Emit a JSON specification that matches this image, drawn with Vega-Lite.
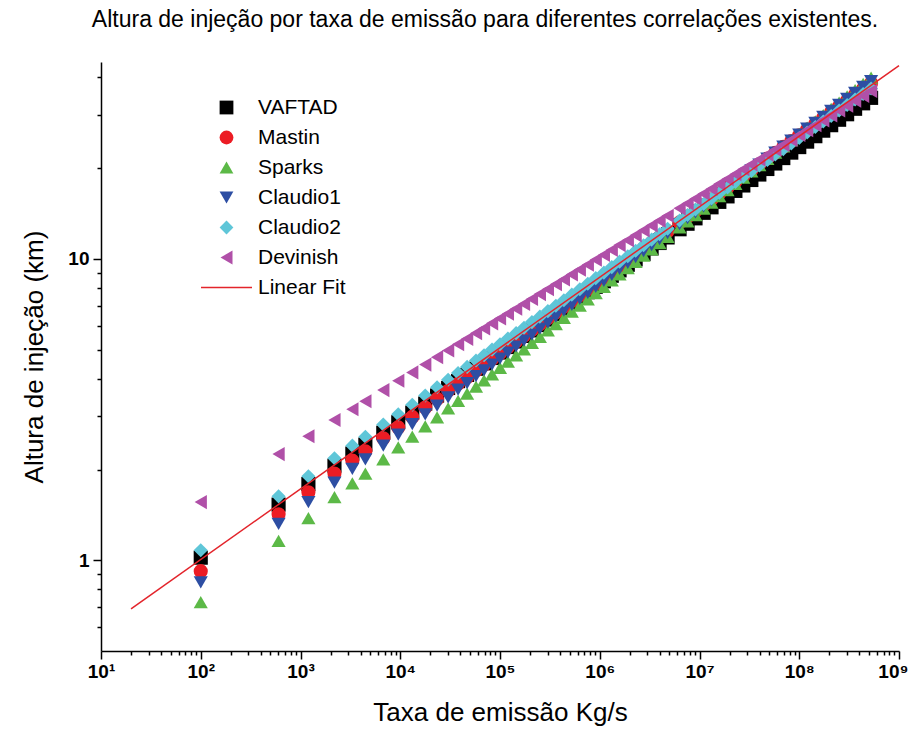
{
"$schema": "https://vega.github.io/schema/vega-lite/v6.json",
"width": 798, "height": 589,
"autosize": {"type": "none"},
"padding": {"left": 101, "top": 62, "right": 14, "bottom": 96},
"background": "white",
"title": {"text": "Altura de injeção por taxa de emissão para diferentes correlações existentes.", "font": "Liberation Sans", "fontSize": 23, "fontWeight": "normal", "color": "black", "offset": 30, "frame": "group", "dx": -15},
"config": {"view": {"stroke": null}},
"datasets": {
"pts": [
{"q":100,"s":"VAFTAD","h":1.02},{"q":603,"s":"VAFTAD","h":1.53},{"q":1200,"s":"VAFTAD","h":1.79},{"q":2190,"s":"VAFTAD","h":2.06},{"q":3310,"s":"VAFTAD","h":2.26},{"q":4470,"s":"VAFTAD","h":2.42},{"q":6760,"s":"VAFTAD","h":2.65},{"q":9550,"s":"VAFTAD","h":2.87},{"q":13200,"s":"VAFTAD","h":3.09},{"q":17800,"s":"VAFTAD","h":3.31},{"q":23400,"s":"VAFTAD","h":3.52},{"q":30200,"s":"VAFTAD","h":3.73},{"q":38000,"s":"VAFTAD","h":3.93},{"q":46800,"s":"VAFTAD","h":4.12},{"q":57500,"s":"VAFTAD","h":4.32},{"q":69200,"s":"VAFTAD","h":4.50},{"q":83200,"s":"VAFTAD","h":4.69},{"q":100000,"s":"VAFTAD","h":4.89},{"q":120000,"s":"VAFTAD","h":5.10},{"q":145000,"s":"VAFTAD","h":5.32},{"q":174000,"s":"VAFTAD","h":5.55},{"q":209000,"s":"VAFTAD","h":5.79},{"q":251000,"s":"VAFTAD","h":6.03},{"q":302000,"s":"VAFTAD","h":6.29},{"q":363000,"s":"VAFTAD","h":6.56},{"q":437000,"s":"VAFTAD","h":6.84},{"q":525000,"s":"VAFTAD","h":7.13},{"q":631000,"s":"VAFTAD","h":7.44},{"q":759000,"s":"VAFTAD","h":7.75},{"q":912000,"s":"VAFTAD","h":8.08},{"q":1100000,"s":"VAFTAD","h":8.43},{"q":1320000,"s":"VAFTAD","h":8.79},{"q":1580000,"s":"VAFTAD","h":9.16},{"q":1910000,"s":"VAFTAD","h":9.56},{"q":2290000,"s":"VAFTAD","h":9.96},{"q":2750000,"s":"VAFTAD","h":10.39},{"q":3310000,"s":"VAFTAD","h":10.83},{"q":3980000,"s":"VAFTAD","h":11.29},{"q":4790000,"s":"VAFTAD","h":11.78},{"q":6310000,"s":"VAFTAD","h":12.54},{"q":7590000,"s":"VAFTAD","h":13.08},{"q":9120000,"s":"VAFTAD","h":13.63},{"q":11000000,"s":"VAFTAD","h":14.22},{"q":13200000,"s":"VAFTAD","h":14.83},{"q":15800000,"s":"VAFTAD","h":15.46},{"q":19100000,"s":"VAFTAD","h":16.12},{"q":22900000,"s":"VAFTAD","h":16.81},{"q":27500000,"s":"VAFTAD","h":17.52},{"q":33100000,"s":"VAFTAD","h":18.27},{"q":39800000,"s":"VAFTAD","h":19.05},{"q":47900000,"s":"VAFTAD","h":19.87},{"q":57500000,"s":"VAFTAD","h":20.72},{"q":69200000,"s":"VAFTAD","h":21.60},{"q":83200000,"s":"VAFTAD","h":22.52},{"q":100000000,"s":"VAFTAD","h":23.49},{"q":120000000,"s":"VAFTAD","h":24.49},{"q":145000000,"s":"VAFTAD","h":25.53},{"q":174000000,"s":"VAFTAD","h":26.63},{"q":209000000,"s":"VAFTAD","h":27.77},{"q":251000000,"s":"VAFTAD","h":28.95},{"q":302000000,"s":"VAFTAD","h":30.19},{"q":363000000,"s":"VAFTAD","h":31.48},{"q":437000000,"s":"VAFTAD","h":32.82},{"q":525000000,"s":"VAFTAD","h":34.22},
{"q":100,"s":"Mastin","h":0.92},{"q":603,"s":"Mastin","h":1.42},{"q":1200,"s":"Mastin","h":1.68},{"q":2190,"s":"Mastin","h":1.94},{"q":3310,"s":"Mastin","h":2.14},{"q":4470,"s":"Mastin","h":2.30},{"q":6760,"s":"Mastin","h":2.54},{"q":9550,"s":"Mastin","h":2.76},{"q":13200,"s":"Mastin","h":2.99},{"q":17800,"s":"Mastin","h":3.21},{"q":23400,"s":"Mastin","h":3.43},{"q":30200,"s":"Mastin","h":3.65},{"q":38000,"s":"Mastin","h":3.85},{"q":46800,"s":"Mastin","h":4.05},{"q":57500,"s":"Mastin","h":4.26},{"q":69200,"s":"Mastin","h":4.45},{"q":83200,"s":"Mastin","h":4.65},{"q":100000,"s":"Mastin","h":4.86},{"q":120000,"s":"Mastin","h":5.09},{"q":145000,"s":"Mastin","h":5.32},{"q":174000,"s":"Mastin","h":5.56},{"q":209000,"s":"Mastin","h":5.81},{"q":251000,"s":"Mastin","h":6.07},{"q":302000,"s":"Mastin","h":6.35},{"q":363000,"s":"Mastin","h":6.64},{"q":437000,"s":"Mastin","h":6.94},{"q":525000,"s":"Mastin","h":7.25},{"q":631000,"s":"Mastin","h":7.58},{"q":759000,"s":"Mastin","h":7.93},{"q":912000,"s":"Mastin","h":8.29},{"q":1100000,"s":"Mastin","h":8.66},{"q":1320000,"s":"Mastin","h":9.06},{"q":1580000,"s":"Mastin","h":9.47},{"q":1910000,"s":"Mastin","h":9.90},{"q":2290000,"s":"Mastin","h":10.35},{"q":2750000,"s":"Mastin","h":10.82},{"q":3310000,"s":"Mastin","h":11.31},{"q":3980000,"s":"Mastin","h":11.82},{"q":4790000,"s":"Mastin","h":12.36},{"q":6310000,"s":"Mastin","h":13.21},{"q":7590000,"s":"Mastin","h":13.81},{"q":9120000,"s":"Mastin","h":14.43},{"q":11000000,"s":"Mastin","h":15.09},{"q":13200000,"s":"Mastin","h":15.77},{"q":15800000,"s":"Mastin","h":16.49},{"q":19100000,"s":"Mastin","h":17.24},{"q":22900000,"s":"Mastin","h":18.02},{"q":27500000,"s":"Mastin","h":18.84},{"q":33100000,"s":"Mastin","h":19.70},{"q":39800000,"s":"Mastin","h":20.59},{"q":47900000,"s":"Mastin","h":21.52},{"q":57500000,"s":"Mastin","h":22.50},{"q":69200000,"s":"Mastin","h":23.52},{"q":83200000,"s":"Mastin","h":24.59},{"q":100000000,"s":"Mastin","h":25.70},{"q":120000000,"s":"Mastin","h":26.87},{"q":145000000,"s":"Mastin","h":28.09},{"q":174000000,"s":"Mastin","h":29.37},{"q":209000000,"s":"Mastin","h":30.70},{"q":251000000,"s":"Mastin","h":32.09},{"q":302000000,"s":"Mastin","h":33.55},{"q":363000000,"s":"Mastin","h":35.08},{"q":437000000,"s":"Mastin","h":36.67},{"q":525000000,"s":"Mastin","h":38.32},
{"q":100,"s":"Sparks","h":0.726},{"q":603,"s":"Sparks","h":1.16},{"q":1200,"s":"Sparks","h":1.38},{"q":2190,"s":"Sparks","h":1.62},{"q":3310,"s":"Sparks","h":1.80},{"q":4470,"s":"Sparks","h":1.94},{"q":6760,"s":"Sparks","h":2.16},{"q":9550,"s":"Sparks","h":2.37},{"q":13200,"s":"Sparks","h":2.57},{"q":17800,"s":"Sparks","h":2.78},{"q":23400,"s":"Sparks","h":2.98},{"q":30200,"s":"Sparks","h":3.19},{"q":38000,"s":"Sparks","h":3.38},{"q":46800,"s":"Sparks","h":3.57},{"q":57500,"s":"Sparks","h":3.77},{"q":69200,"s":"Sparks","h":3.95},{"q":83200,"s":"Sparks","h":4.14},{"q":100000,"s":"Sparks","h":4.35},{"q":120000,"s":"Sparks","h":4.56},{"q":145000,"s":"Sparks","h":4.78},{"q":174000,"s":"Sparks","h":5.01},{"q":209000,"s":"Sparks","h":5.26},{"q":251000,"s":"Sparks","h":5.51},{"q":302000,"s":"Sparks","h":5.79},{"q":363000,"s":"Sparks","h":6.07},{"q":437000,"s":"Sparks","h":6.37},{"q":525000,"s":"Sparks","h":6.68},{"q":631000,"s":"Sparks","h":7.00},{"q":759000,"s":"Sparks","h":7.34},{"q":912000,"s":"Sparks","h":7.70},{"q":1100000,"s":"Sparks","h":8.08},{"q":1320000,"s":"Sparks","h":8.48},{"q":1580000,"s":"Sparks","h":8.89},{"q":1910000,"s":"Sparks","h":9.32},{"q":2290000,"s":"Sparks","h":9.78},{"q":2750000,"s":"Sparks","h":10.26},{"q":3310000,"s":"Sparks","h":10.76},{"q":3980000,"s":"Sparks","h":11.28},{"q":4790000,"s":"Sparks","h":11.83},{"q":6310000,"s":"Sparks","h":12.71},{"q":7590000,"s":"Sparks","h":13.33},{"q":9120000,"s":"Sparks","h":13.98},{"q":11000000,"s":"Sparks","h":14.67},{"q":13200000,"s":"Sparks","h":15.38},{"q":15800000,"s":"Sparks","h":16.14},{"q":19100000,"s":"Sparks","h":16.92},{"q":22900000,"s":"Sparks","h":17.75},{"q":27500000,"s":"Sparks","h":18.62},{"q":33100000,"s":"Sparks","h":19.53},{"q":39800000,"s":"Sparks","h":20.48},{"q":47900000,"s":"Sparks","h":21.48},{"q":57500000,"s":"Sparks","h":22.53},{"q":69200000,"s":"Sparks","h":23.63},{"q":83200000,"s":"Sparks","h":24.79},{"q":100000000,"s":"Sparks","h":26.00},{"q":120000000,"s":"Sparks","h":27.27},{"q":145000000,"s":"Sparks","h":28.60},{"q":174000000,"s":"Sparks","h":30.00},{"q":209000000,"s":"Sparks","h":31.47},{"q":251000000,"s":"Sparks","h":33.01},{"q":302000000,"s":"Sparks","h":34.62},{"q":363000000,"s":"Sparks","h":36.31},{"q":437000000,"s":"Sparks","h":38.08},{"q":525000000,"s":"Sparks","h":39.94},
{"q":100,"s":"Claudio1","h":0.845},{"q":603,"s":"Claudio1","h":1.32},{"q":1200,"s":"Claudio1","h":1.56},{"q":2190,"s":"Claudio1","h":1.81},{"q":3310,"s":"Claudio1","h":2.01},{"q":4470,"s":"Claudio1","h":2.16},{"q":6760,"s":"Claudio1","h":2.40},{"q":9550,"s":"Claudio1","h":2.61},{"q":13200,"s":"Claudio1","h":2.83},{"q":17800,"s":"Claudio1","h":3.05},{"q":23400,"s":"Claudio1","h":3.26},{"q":30200,"s":"Claudio1","h":3.47},{"q":38000,"s":"Claudio1","h":3.68},{"q":46800,"s":"Claudio1","h":3.87},{"q":57500,"s":"Claudio1","h":4.08},{"q":69200,"s":"Claudio1","h":4.27},{"q":83200,"s":"Claudio1","h":4.46},{"q":100000,"s":"Claudio1","h":4.67},{"q":120000,"s":"Claudio1","h":4.89},{"q":145000,"s":"Claudio1","h":5.12},{"q":174000,"s":"Claudio1","h":5.36},{"q":209000,"s":"Claudio1","h":5.61},{"q":251000,"s":"Claudio1","h":5.87},{"q":302000,"s":"Claudio1","h":6.14},{"q":363000,"s":"Claudio1","h":6.43},{"q":437000,"s":"Claudio1","h":6.73},{"q":525000,"s":"Claudio1","h":7.04},{"q":631000,"s":"Claudio1","h":7.37},{"q":759000,"s":"Claudio1","h":7.71},{"q":912000,"s":"Claudio1","h":8.07},{"q":1100000,"s":"Claudio1","h":8.45},{"q":1320000,"s":"Claudio1","h":8.85},{"q":1580000,"s":"Claudio1","h":9.26},{"q":1910000,"s":"Claudio1","h":9.69},{"q":2290000,"s":"Claudio1","h":10.14},{"q":2750000,"s":"Claudio1","h":10.61},{"q":3310000,"s":"Claudio1","h":11.11},{"q":3980000,"s":"Claudio1","h":11.63},{"q":4790000,"s":"Claudio1","h":12.17},{"q":6310000,"s":"Claudio1","h":13.03},{"q":7590000,"s":"Claudio1","h":13.64},{"q":9120000,"s":"Claudio1","h":14.27},{"q":11000000,"s":"Claudio1","h":14.94},{"q":13200000,"s":"Claudio1","h":15.64},{"q":15800000,"s":"Claudio1","h":16.37},{"q":19100000,"s":"Claudio1","h":17.13},{"q":22900000,"s":"Claudio1","h":17.93},{"q":27500000,"s":"Claudio1","h":18.77},{"q":33100000,"s":"Claudio1","h":19.65},{"q":39800000,"s":"Claudio1","h":20.56},{"q":47900000,"s":"Claudio1","h":21.52},{"q":57500000,"s":"Claudio1","h":22.52},{"q":69200000,"s":"Claudio1","h":23.57},{"q":83200000,"s":"Claudio1","h":24.67},{"q":100000000,"s":"Claudio1","h":25.82},{"q":120000000,"s":"Claudio1","h":27.03},{"q":145000000,"s":"Claudio1","h":28.29},{"q":174000000,"s":"Claudio1","h":29.61},{"q":209000000,"s":"Claudio1","h":30.99},{"q":251000000,"s":"Claudio1","h":32.43},{"q":302000000,"s":"Claudio1","h":33.95},{"q":363000000,"s":"Claudio1","h":35.53},{"q":437000000,"s":"Claudio1","h":37.19},{"q":525000000,"s":"Claudio1","h":38.92},
{"q":100,"s":"Claudio2","h":1.08},{"q":603,"s":"Claudio2","h":1.63},{"q":1200,"s":"Claudio2","h":1.90},{"q":2190,"s":"Claudio2","h":2.18},{"q":3310,"s":"Claudio2","h":2.40},{"q":4470,"s":"Claudio2","h":2.57},{"q":6760,"s":"Claudio2","h":2.82},{"q":9550,"s":"Claudio2","h":3.05},{"q":13200,"s":"Claudio2","h":3.28},{"q":17800,"s":"Claudio2","h":3.52},{"q":23400,"s":"Claudio2","h":3.75},{"q":30200,"s":"Claudio2","h":3.97},{"q":38000,"s":"Claudio2","h":4.18},{"q":46800,"s":"Claudio2","h":4.38},{"q":57500,"s":"Claudio2","h":4.60},{"q":69200,"s":"Claudio2","h":4.79},{"q":83200,"s":"Claudio2","h":5.00},{"q":100000,"s":"Claudio2","h":5.21},{"q":120000,"s":"Claudio2","h":5.44},{"q":145000,"s":"Claudio2","h":5.67},{"q":174000,"s":"Claudio2","h":5.91},{"q":209000,"s":"Claudio2","h":6.17},{"q":251000,"s":"Claudio2","h":6.43},{"q":302000,"s":"Claudio2","h":6.71},{"q":363000,"s":"Claudio2","h":6.99},{"q":437000,"s":"Claudio2","h":7.29},{"q":525000,"s":"Claudio2","h":7.61},{"q":631000,"s":"Claudio2","h":7.93},{"q":759000,"s":"Claudio2","h":8.27},{"q":912000,"s":"Claudio2","h":8.63},{"q":1100000,"s":"Claudio2","h":9.00},{"q":1320000,"s":"Claudio2","h":9.39},{"q":1580000,"s":"Claudio2","h":9.79},{"q":1910000,"s":"Claudio2","h":10.20},{"q":2290000,"s":"Claudio2","h":10.64},{"q":2750000,"s":"Claudio2","h":11.10},{"q":3310000,"s":"Claudio2","h":11.58},{"q":3980000,"s":"Claudio2","h":12.07},{"q":4790000,"s":"Claudio2","h":12.59},{"q":6310000,"s":"Claudio2","h":13.41},{"q":7590000,"s":"Claudio2","h":13.98},{"q":9120000,"s":"Claudio2","h":14.58},{"q":11000000,"s":"Claudio2","h":15.21},{"q":13200000,"s":"Claudio2","h":15.86},{"q":15800000,"s":"Claudio2","h":16.54},{"q":19100000,"s":"Claudio2","h":17.25},{"q":22900000,"s":"Claudio2","h":17.99},{"q":27500000,"s":"Claudio2","h":18.76},{"q":33100000,"s":"Claudio2","h":19.57},{"q":39800000,"s":"Claudio2","h":20.41},{"q":47900000,"s":"Claudio2","h":21.28},{"q":57500000,"s":"Claudio2","h":22.20},{"q":69200000,"s":"Claudio2","h":23.14},{"q":83200000,"s":"Claudio2","h":24.14},{"q":100000000,"s":"Claudio2","h":25.18},{"q":120000000,"s":"Claudio2","h":26.26},{"q":145000000,"s":"Claudio2","h":27.38},{"q":174000000,"s":"Claudio2","h":28.56},{"q":209000000,"s":"Claudio2","h":29.78},{"q":251000000,"s":"Claudio2","h":31.06},{"q":302000000,"s":"Claudio2","h":32.39},{"q":363000000,"s":"Claudio2","h":33.78},{"q":437000000,"s":"Claudio2","h":35.24},{"q":525000000,"s":"Claudio2","h":36.74},
{"q":100,"s":"Devinish","h":1.56},{"q":603,"s":"Devinish","h":2.25},{"q":1200,"s":"Devinish","h":2.58},{"q":2190,"s":"Devinish","h":2.92},{"q":3310,"s":"Devinish","h":3.17},{"q":4470,"s":"Devinish","h":3.37},{"q":6760,"s":"Devinish","h":3.67},{"q":9550,"s":"Devinish","h":3.94},{"q":13200,"s":"Devinish","h":4.20},{"q":17800,"s":"Devinish","h":4.46},{"q":23400,"s":"Devinish","h":4.72},{"q":30200,"s":"Devinish","h":4.97},{"q":38000,"s":"Devinish","h":5.21},{"q":46800,"s":"Devinish","h":5.43},{"q":57500,"s":"Devinish","h":5.67},{"q":69200,"s":"Devinish","h":5.88},{"q":83200,"s":"Devinish","h":6.11},{"q":100000,"s":"Devinish","h":6.34},{"q":120000,"s":"Devinish","h":6.58},{"q":145000,"s":"Devinish","h":6.83},{"q":174000,"s":"Devinish","h":7.09},{"q":209000,"s":"Devinish","h":7.36},{"q":251000,"s":"Devinish","h":7.64},{"q":302000,"s":"Devinish","h":7.93},{"q":363000,"s":"Devinish","h":8.24},{"q":437000,"s":"Devinish","h":8.55},{"q":525000,"s":"Devinish","h":8.88},{"q":631000,"s":"Devinish","h":9.21},{"q":759000,"s":"Devinish","h":9.56},{"q":912000,"s":"Devinish","h":9.93},{"q":1100000,"s":"Devinish","h":10.31},{"q":1320000,"s":"Devinish","h":10.70},{"q":1580000,"s":"Devinish","h":11.11},{"q":1910000,"s":"Devinish","h":11.53},{"q":2290000,"s":"Devinish","h":11.97},{"q":2750000,"s":"Devinish","h":12.43},{"q":3310000,"s":"Devinish","h":12.90},{"q":3980000,"s":"Devinish","h":13.39},{"q":4790000,"s":"Devinish","h":13.90},{"q":6310000,"s":"Devinish","h":14.71},{"q":7590000,"s":"Devinish","h":15.26},{"q":9120000,"s":"Devinish","h":15.84},{"q":11000000,"s":"Devinish","h":16.45},{"q":13200000,"s":"Devinish","h":17.07},{"q":15800000,"s":"Devinish","h":17.73},{"q":19100000,"s":"Devinish","h":18.40},{"q":22900000,"s":"Devinish","h":19.10},{"q":27500000,"s":"Devinish","h":19.83},{"q":33100000,"s":"Devinish","h":20.58},{"q":39800000,"s":"Devinish","h":21.37},{"q":47900000,"s":"Devinish","h":22.18},{"q":57500000,"s":"Devinish","h":23.03},{"q":69200000,"s":"Devinish","h":23.90},{"q":83200000,"s":"Devinish","h":24.81},{"q":100000000,"s":"Devinish","h":25.76},{"q":120000000,"s":"Devinish","h":26.74},{"q":145000000,"s":"Devinish","h":27.76},{"q":174000000,"s":"Devinish","h":28.82},{"q":209000000,"s":"Devinish","h":29.92},{"q":251000000,"s":"Devinish","h":31.06},{"q":302000000,"s":"Devinish","h":32.24},{"q":363000000,"s":"Devinish","h":33.46},{"q":437000000,"s":"Devinish","h":34.74},{"q":525000000,"s":"Devinish","h":36.07}
],
"fit": [{"q":20,"h":0.69},{"q":1000000000,"h":43.8}]
},
"layer": [
{
"data": {"name": "pts"},
"mark": {"type": "point", "filled": true, "opacity": 1, "size": 200},
"encoding": {
"x": {"field": "q", "type": "quantitative",
 "scale": {"type": "log", "domain": [10, 1000000000], "nice": false},
 "axis": {"title": "Taxa de emissão Kg/s",
  "values": [10,20,30,40,50,60,70,80,90,100,200,300,400,500,600,700,800,900,1000,2000,3000,4000,5000,6000,7000,8000,9000,1e4,2e4,3e4,4e4,5e4,6e4,7e4,8e4,9e4,1e5,2e5,3e5,4e5,5e5,6e5,7e5,8e5,9e5,1e6,2e6,3e6,4e6,5e6,6e6,7e6,8e6,9e6,1e7,2e7,3e7,4e7,5e7,6e7,7e7,8e7,9e7,1e8,2e8,3e8,4e8,5e8,6e8,7e8,8e8,9e8,1e9],
  "labelExpr": "abs(log(datum.value)/LN10 - round(log(datum.value)/LN10)) < 0.001 ? '10' + ['⁰','¹','²','³','⁴','⁵','⁶','⁷','⁸','⁹'][round(log(datum.value)/LN10)] : ''",
  "labelOverlap": false, "labelFlush": false,
  "labelAlign": {"condition": {"test": "datum.value >= 999999999", "value": "right"}, "value": "center"},
  "labelOffset": {"condition": {"test": "datum.value >= 999999999", "value": 9}, "value": 0},
  "tickSize": {"condition": {"test": "abs(log(datum.value)/LN10 - round(log(datum.value)/LN10)) < 0.001", "value": 8}, "value": 4},
  "tickColor": "black", "tickWidth": 1.5, "domainColor": "black", "domainWidth": 1.5, "grid": false,
  "labelFont": "Liberation Sans", "labelFontWeight": "bold", "labelFontSize": 19, "labelColor": "black", "labelPadding": 3,
  "titleFont": "Liberation Sans", "titleFontSize": 26, "titleFontWeight": "normal", "titleColor": "black", "titlePadding": 18}},
"y": {"field": "h", "type": "quantitative",
 "scale": {"type": "log", "domain": [0.5, 45], "nice": false},
 "axis": {"title": "Altura de injeção (km)",
  "values": [0.6,0.7,0.8,0.9,1,2,3,4,5,6,7,8,9,10,20,30,40],
  "labelExpr": "datum.value == 1 || datum.value == 10 ? datum.value + '' : ''",
  "labelOverlap": false, "labelFlush": false,
  "tickSize": {"condition": {"test": "datum.value == 1 || datum.value == 10", "value": 8}, "value": 4},
  "tickColor": "black", "tickWidth": 1.5, "domainColor": "black", "domainWidth": 1.5, "grid": false,
  "labelFont": "Liberation Sans", "labelFontWeight": "bold", "labelFontSize": 19, "labelColor": "black", "labelPadding": 4,
  "titleFont": "Liberation Sans", "titleFontSize": 26, "titleFontWeight": "normal", "titleColor": "black", "titlePadding": 20}},
"color": {"field": "s", "type": "nominal",
 "scale": {"domain": ["VAFTAD","Mastin","Sparks","Claudio1","Claudio2","Devinish","Linear Fit"],
  "range": ["#000000","#ec1c24","#5cb947","#2d4ea3","#5fc6d8","#b050a8","#e3242b"]},
 "legend": {"title": null, "orient": "none", "legendX": 115, "legendY": 35,
  "symbolSize": 190, "symbolOpacity": 1, "labelFont": "Liberation Sans", "labelFontSize": 21, "labelColor": "black",
  "rowPadding": 8, "labelOffset": 21,
  "encode": {"symbols": {"update": {"stroke": {"signal": "scale('color', datum.value)"}, "strokeWidth": {"signal": "datum.value === 'Linear Fit' ? 1.6 : 0"}}}}}},
"shape": {"field": "s", "type": "nominal",
 "scale": {"domain": ["VAFTAD","Mastin","Sparks","Claudio1","Claudio2","Devinish","Linear Fit"],
  "range": ["square","circle","triangle-up","triangle-down","diamond","triangle-left","M-3.7,0L3.7,0"]}}
}
},
{
"data": {"name": "fit"},
"mark": {"type": "line", "color": "#e3242b", "strokeWidth": 1.5},
"encoding": {
"x": {"field": "q", "type": "quantitative"},
"y": {"field": "h", "type": "quantitative"}
}
}
]
}
